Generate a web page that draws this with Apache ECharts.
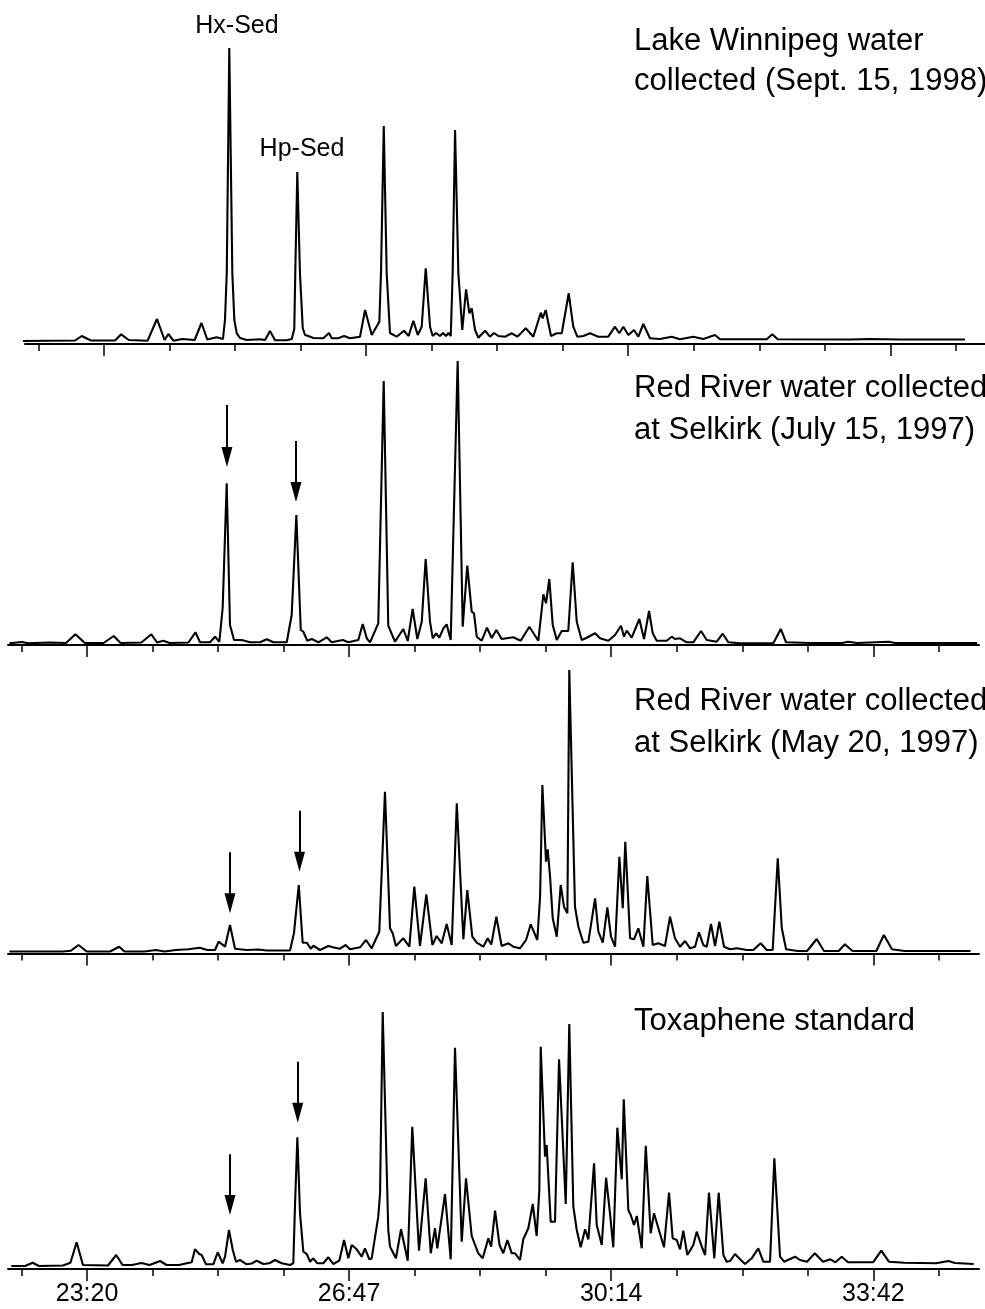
<!DOCTYPE html>
<html>
<head>
<meta charset="utf-8">
<script src="https://cdn.jsdelivr.net/npm/echarts@6.0.0/dist/echarts.min.js"></script>
<style>html,body{margin:0;padding:0;background:#fff}#c{width:985px;height:1309px}</style>
</head>
<body>
<div id="c"></div>
<script>
// Retention time (s) and detector response (arbitrary units)
const lakeWinnipeg = [[1330.1,3],[1377.1,3.5],[1382.4,8],[1389.7,3.5],[1408.7,3.5],[1413.6,9.7],[1419.6,4],[1434.5,3.3],[1441.9,25],[1447.9,4],
[1450.9,10],[1454.9,3.3],[1461.9,5],[1471.7,4],[1477.1,21],[1481.7,4.5],[1489.1,6.7],[1494.1,5],[1495.7,24],[1497.1,71],
[1499.1,296],[1501.5,71],[1503.1,24],[1505.0,10.7],[1507.6,6],[1512.9,4],[1523.4,4.7],[1527.4,4],[1531.3,13],[1535.3,3.7],
[1544.5,3.7],[1548.5,5],[1550.5,15],[1551.3,71],[1552.9,172],[1555.0,71],[1557.2,16],[1559.0,9],[1561.6,8],[1565.6,6],
[1573.5,5.7],[1578.0,11],[1580.1,5.7],[1585.3,5.7],[1589.9,8],[1594.6,5.7],[1602.5,7.3],[1606.5,34],[1611.8,9],[1617.8,22.3],
[1619.1,71],[1621.3,218],[1623.6,71],[1626.2,11],[1631.5,7.3],[1637.3,13.3],[1641.0,8],[1644.7,23.3],[1648.2,9],[1651.3,17.3],
[1654.5,75.7],[1657.9,17.3],[1660.0,8],[1662.6,11],[1665.8,8],[1668.2,11],[1670.5,8],[1672.5,11],[1674.3,8],[1675.8,71],
[1677.7,214],[1680.3,71],[1683.4,14],[1686.4,54.7],[1689.0,30.7],[1690.9,35.7],[1693.5,14],[1696.1,6.3],[1701.4,13.3],[1705.3,7.3],
[1708.5,11],[1711.9,8],[1717.2,7.3],[1722.5,10.7],[1727.0,7.3],[1733.6,15.7],[1739.6,7.3],[1745.5,31.3],[1747.0,25.7],[1749.4,34],
[1753.6,8],[1758.1,10.7],[1762.1,10.7],[1767.6,50.7],[1771.2,17.3],[1774.4,7.3],[1779.2,8],[1784.5,10.7],[1791.0,7.3],[1798.9,7.3],
[1804.2,17.3],[1807.6,10.7],[1810.8,17.3],[1814.8,9],[1819.3,14],[1822.7,7.3],[1826.6,20],[1831.9,5.7],[1839.8,5],[1849.1,7.3],
[1855.6,4.7],[1866.2,7.3],[1874.1,5],[1883.3,9],[1887.3,4.7],[1924.2,4.7],[1928.7,9.7],[1932.9,4.7],[1990.1,4.5],[2006.0,5],
[2029.7,4.5],[2045.5,4.5],[2081.1,4.5]];

const redRiverJuly = [[1338.6,1.7],[1348.6,3],[1353.3,1.7],[1370.7,2.5],[1383.4,2],[1390.8,10.7],[1398.3,2],[1413.1,2],[1421.1,9],[1426.6,2],
[1443.0,2.5],[1450.9,10.7],[1455.4,2.5],[1460.4,4.3],[1465.3,2],[1480.2,2.5],[1485.8,12.7],[1489.4,2.7],[1497.3,2.7],[1501.3,8.3],
[1504.7,3.3],[1507.3,37],[1510.5,161.7],[1513.1,20],[1516.3,5],[1522.4,5],[1528.9,2.7],[1536.9,2.7],[1542.2,5.7],[1547.4,2.7],
[1558.0,2.7],[1561.9,30],[1565.6,130],[1569.1,15],[1571.1,13.3],[1574.3,4.3],[1577.8,6],[1583.0,2.7],[1589.6,7.7],[1593.6,2.7],
[1602.3,5],[1606.7,2.7],[1614.6,5],[1618.1,21],[1621.3,6.7],[1623.9,2.7],[1630.4,21.7],[1634.7,264],[1638.3,19.3],[1643.6,3.3],
[1650.2,16],[1653.7,4],[1657.6,36],[1661.3,6],[1664.8,23.3],[1667.9,86],[1671.3,23.3],[1673.5,6.7],[1676.1,11.7],[1678.7,7.3],
[1681.9,16.7],[1684.5,20.7],[1687.7,5],[1693.2,284],[1697.2,18.3],[1700.8,79.3],[1704.3,33.3],[1706.1,31.7],[1708.3,8.3],[1712.2,4.3],
[1716.4,17.3],[1720.1,7],[1723.8,15],[1728.0,6],[1737.2,7.7],[1743.1,4.3],[1749.9,18.3],[1757.0,4.3],[1761.0,50.7],[1763.1,41.7],
[1765.7,66],[1768.4,20],[1771.6,5],[1775.5,14],[1780.7,14],[1784.2,82.7],[1787.4,23.3],[1791.3,5],[1795.3,7.3],[1801.9,11.7],
[1805.8,6.7],[1812.4,4.3],[1817.7,10],[1822.4,19.3],[1824.8,8.3],[1826.9,14.3],[1830.9,7.3],[1836.9,26],[1840.6,6],[1844.6,34],
[1847.5,11.7],[1850.7,4.3],[1858.6,4.3],[1862.5,8.3],[1865.1,6],[1869.1,6.7],[1874.4,2.7],[1879.6,2.7],[1885.7,14],[1890.2,5],
[1898.1,3.3],[1902.9,11.3],[1907.3,2.7],[1916.6,1.7],[1942.9,1.7],[1948.8,16],[1953.0,2.7],[1971.9,2],[1997.3,2],[2002.0,3.3],
[2009.1,2],[2034.3,3.3],[2039.2,2],[2104.1,2]];

const redRiverMay = [[1338.6,2],[1348.6,2],[1380.9,2],[1387.3,2.8],[1393.3,8.5],[1399.8,2],[1418.2,2],[1425.5,6.8],[1429.6,2],[1445.5,2],
[1454.4,3.5],[1461.4,2],[1470.3,3.5],[1480.2,4.2],[1489.2,5.8],[1495.2,3.5],[1501.3,3.5],[1504.1,11.8],[1509.2,6.8],[1513.1,28.5],
[1517.1,4.8],[1526.3,3.5],[1535.5,4],[1542.2,3],[1560.6,3],[1563.7,20.2],[1567.5,68.5],[1570.6,10.8],[1573.8,10.8],[1577.0,4.8],
[1579.0,7.8],[1584.3,3.5],[1590.9,7.5],[1594.4,6.2],[1600.1,4.8],[1604.6,8.5],[1608.0,4.2],[1616.0,6.2],[1620.7,13.5],[1625.2,5.2],
[1631.2,21.8],[1635.7,161.8],[1639.7,25.2],[1641.8,20.2],[1644.4,7.5],[1650.2,15.2],[1655.0,6.8],[1658.9,66.8],[1663.4,7.5],[1668.4,59.2],
[1673.2,8.5],[1676.6,17.5],[1680.6,10.2],[1684.5,29.5],[1688.5,8.5],[1692.5,150.2],[1697.7,14.2],[1700.8,63.5],[1704.8,16.8],[1708.3,10.8],
[1713.5,6.8],[1717.0,15.2],[1719.8,9],[1723.8,36.8],[1728.0,7.5],[1733.3,10.2],[1737.2,6.8],[1742.5,5.2],[1747.3,13.5],[1751.0,29.2],
[1756.2,13.5],[1758.4,56.8],[1760.2,168.5],[1763.1,91.8],[1764.4,104.2],[1766.3,76.8],[1768.4,35.2],[1771.6,16.8],[1774.7,68.5],[1777.3,46.8],
[1780.0,40.2],[1781.5,283.5],[1786.0,46.8],[1788.7,26.8],[1792.6,10.8],[1796.6,11.8],[1801.9,55.2],[1804.5,21.8],[1808.0,10.8],[1811.6,46.2],
[1814.5,16.8],[1817.7,6.8],[1821.1,96.8],[1823.8,45.2],[1825.8,111.8],[1829.6,15.2],[1832.7,14.2],[1836.1,25.2],[1840.1,6.8],[1843.2,77.5],
[1847.5,8.5],[1851.9,10.2],[1857.2,7.5],[1861.2,36.8],[1865.1,15.2],[1869.1,6.8],[1873.1,12.5],[1877.0,5.2],[1881.0,6.8],[1884.1,21.2],
[1887.5,8.5],[1890.2,6.8],[1893.6,29.5],[1896.8,7.5],[1900.2,31.8],[1903.9,6.8],[1908.7,4.2],[1914.0,5.2],[1921.9,3.5],[1927.1,3.5],
[1932.9,10.2],[1937.7,3.5],[1942.4,3.5],[1946.4,95.2],[1949.6,25.2],[1953.0,4.2],[1962.2,2.5],[1969.6,2.5],[1977.2,14.5],[1983.0,2.5],
[1994.6,2.5],[1999.5,9.2],[2005.5,2.5],[2024.4,2.5],[2030.3,18.5],[2036.8,4.2],[2046.7,2.5],[2098.9,2.5]];

const toxapheneStd = [[1340.1,3],[1351.0,3],[1357.0,6.3],[1362.0,3],[1380.9,3.5],[1386.9,6.3],[1391.8,26.7],[1396.8,4],[1416.6,3.5],[1423.1,14],
[1428.1,4],[1435.6,4],[1443.0,6],[1449.4,4],[1457.9,8],[1462.9,4],[1472.8,4],[1478.9,5.7],[1482.8,6.7],[1485.4,19.7],
[1488.8,15],[1490.7,14],[1494.1,4.7],[1499.9,4.7],[1503.4,16.7],[1507.3,5.7],[1509.2,12.3],[1512.3,39],[1515.3,19],[1517.9,7.3],
[1521.0,9],[1526.3,4.7],[1530.3,5.5],[1534.2,8.3],[1539.5,5],[1544.2,5.7],[1548.7,9],[1554.0,5.7],[1560.6,4],[1563.2,5.7],
[1564.5,62.3],[1566.4,131.7],[1568.5,55.7],[1571.1,17.3],[1573.8,15],[1576.4,7.3],[1579.0,10.7],[1582.2,5.7],[1586.9,5.7],[1590.9,11.7],
[1594.8,5],[1599.6,8.3],[1603.3,29],[1606.7,10.7],[1609.4,24],[1613.3,19.7],[1617.3,12.3],[1619.9,20.7],[1623.3,9.7],[1625.2,10.7],
[1630.4,52.3],[1631.8,75.7],[1633.9,257],[1638.3,39],[1639.7,22.3],[1644.4,10.7],[1648.4,39.7],[1653.7,8.3],[1657.3,142.3],[1662.6,18.3],
[1667.9,90.7],[1671.9,15.7],[1675.3,40.7],[1677.1,20.7],[1683.2,75],[1687.7,9.7],[1691.1,221.3],[1696.4,27.3],[1699.8,90.7],[1704.3,33],
[1709.5,15.7],[1713.0,10.7],[1717.5,30.7],[1719.7,22.3],[1722.8,58.3],[1726.3,24],[1729.3,15.7],[1732.5,29],[1736.0,15.7],[1738.6,15.7],
[1742.5,9],[1745.1,29.7],[1749.1,40.7],[1752.6,65],[1755.7,33],[1757.8,79],[1758.9,222.3],[1762.3,112.3],[1763.6,124],[1766.8,47.3],
[1770.2,47.3],[1773.4,209.7],[1778.7,65],[1781.5,245],[1784.7,62.3],[1787.4,39],[1790.5,21.7],[1794.0,39.7],[1796.6,29.7],[1801.1,105.7],
[1803.2,44],[1807.2,24],[1810.6,91.3],[1813.7,55.7],[1816.3,21.7],[1819.5,141.3],[1823.0,89.7],[1824.6,169.7],[1828.2,59],[1830.1,54],
[1832.7,44],[1834.9,53],[1838.8,20.7],[1842.0,123.3],[1845.9,35.7],[1848.5,55.7],[1856.4,21.7],[1860.4,76.3],[1863.3,30.7],[1866.5,29],
[1869.1,19.7],[1871.7,38.3],[1874.9,14],[1879.6,24],[1882.3,37.3],[1886.3,22.3],[1888.9,14],[1892.0,76.3],[1896.2,10.7],[1899.7,76.3],
[1903.4,14],[1906.0,7.3],[1908.7,8],[1912.6,15],[1916.6,9.7],[1920.5,5],[1925.8,10.7],[1931.0,20.7],[1935.0,7.3],[1940.3,7.3],
[1943.7,110.7],[1948.2,12.3],[1951.4,7.3],[1960.1,12.3],[1964.0,9],[1969.6,7.3],[1975.7,15.7],[1982.2,7.3],[1988.1,9.7],[1992.0,6.7],
[1997.0,12.3],[2002.0,6.7],[2021.8,6.7],[2028.3,18.3],[2034.3,7.3],[2046.7,6.3],[2071.6,5.7],[2081.5,8],[2086.5,6],[2101.4,5]];

// Arrow annotations: [time, response at arrow tail, response at arrow tip]
const julyArrows = [[1510.7,240,178],[1565.3,204,143]];
const mayArrows = [[1513.1,101.2,40.2],[1568.1,142.8,81.8]];
const toxArrows = [[1513.1,114.7,54],[1566.7,207.3,146.3]];

// Axis ticks (seconds) and their labels
const majorTicks = [1400, 1607.333, 1814.667, 2022];
const tickLabels = ['23:20', '26:47', '30:14', '33:42'];
const minorTicks = [1348.167, 1400, 1451.833, 1503.667, 1555.5, 1607.333, 1659.167, 1711, 1762.833, 1814.667, 1866.5, 1918.333, 1970.167, 2022, 2073.833];

const titles = ['Lake Winnipeg water\ncollected (Sept. 15, 1998)',
  'Red River water collected\nat Selkirk (July 15, 1997)',
  'Red River water collected\nat Selkirk (May 20, 1997)',
  'Toxaphene standard'];

const FONT = '"Liberation Sans", Arial, Helvetica, sans-serif';
const X_MIN = 1337.5;

const panels = [
  {data: lakeWinnipeg, arrows: [], left: 25, width: 960, axisY: 344, yMax: 296, xMax: 2096.9, labels: false, titleY: 21, lh: 40},
  {data: redRiverJuly, arrows: julyArrows, left: 8, width: 971, axisY: 645, yMax: 284, xMax: 2105.6, labels: false, titleY: 367, lh: 42},
  {data: redRiverMay, arrows: mayArrows, left: 8, width: 971, axisY: 953.5, yMax: 283.5, xMax: 2105.6, labels: false, titleY: 680, lh: 42},
  {data: toxapheneStd, arrows: toxArrows, left: 8, width: 971, axisY: 1269, yMax: 257, xMax: 2105.6, labels: true, titleY: 1001, lh: 40}
];

const grids = [], xAxes = [], yAxes = [], series = [], graphics = [];
panels.forEach((p, i) => {
  grids.push({left: p.left, width: p.width, top: p.axisY - p.yMax, height: p.yMax, containLabel: false, outerBoundsMode: 'none'});
  xAxes.push({
    type: 'value', gridIndex: i, position: 'bottom', min: X_MIN, max: p.xMax,
    axisLine: {show: true, onZero: false, lineStyle: {color: '#000', width: 2}},
    axisTick: {show: true, customValues: minorTicks, length: 7, lineStyle: {color: '#000', width: 1.5}},
    axisLabel: {show: false}, splitLine: {show: false}
  });
  xAxes.push({
    type: 'value', gridIndex: i, position: 'bottom', min: X_MIN, max: p.xMax,
    axisLine: {show: false, onZero: false},
    axisTick: {show: true, customValues: majorTicks, length: 12, lineStyle: {color: '#000', width: 1.5}},
    axisLabel: {
      show: p.labels, customValues: majorTicks, fontSize: 25, color: '#000', fontFamily: FONT, margin: 13,
      formatter: function (v) {
        const k = majorTicks.findIndex(m => Math.abs(m - v) < 1);
        return k >= 0 ? tickLabels[k] : '';
      }
    },
    splitLine: {show: false}
  });
  yAxes.push({type: 'value', gridIndex: i, min: 0, max: p.yMax, show: false});
  series.push({
    type: 'line', xAxisIndex: 2 * i, yAxisIndex: i, data: p.data,
    showSymbol: false, symbol: 'none', clip: false, silent: true, animation: false,
    lineStyle: {color: '#000', width: 2.1},
    markLine: {
      silent: true, animation: false, symbol: ['none', 'triangle'], symbolSize: [11, 20],
      label: {show: false},
      lineStyle: {color: '#000', width: 2, type: 'solid'},
      data: p.arrows.map(a => [{coord: [a[0], a[1]]}, {coord: [a[0], a[2] + 10]}])
    }
  });
  graphics.push({
    type: 'text', x: 634, y: p.titleY, silent: true,
    style: {text: titles[i], fontSize: 31, fontFamily: FONT, fill: '#000', lineHeight: p.lh, align: 'left', verticalAlign: 'top'}
  });
});

graphics.push({type: 'text', x: 237, y: 26, silent: true,
  style: {text: 'Hx-Sed', fontSize: 25, fontFamily: FONT, fill: '#000', align: 'center', verticalAlign: 'middle'}});
graphics.push({type: 'text', x: 302, y: 149, silent: true,
  style: {text: 'Hp-Sed', fontSize: 25, fontFamily: FONT, fill: '#000', align: 'center', verticalAlign: 'middle'}});

const chart = echarts.init(document.getElementById('c'), null, {renderer: 'canvas'});
chart.setOption({
  backgroundColor: '#fff',
  animation: false,
  grid: grids,
  xAxis: xAxes,
  yAxis: yAxes,
  series: series,
  graphic: graphics
});
</script>
</body>
</html>
